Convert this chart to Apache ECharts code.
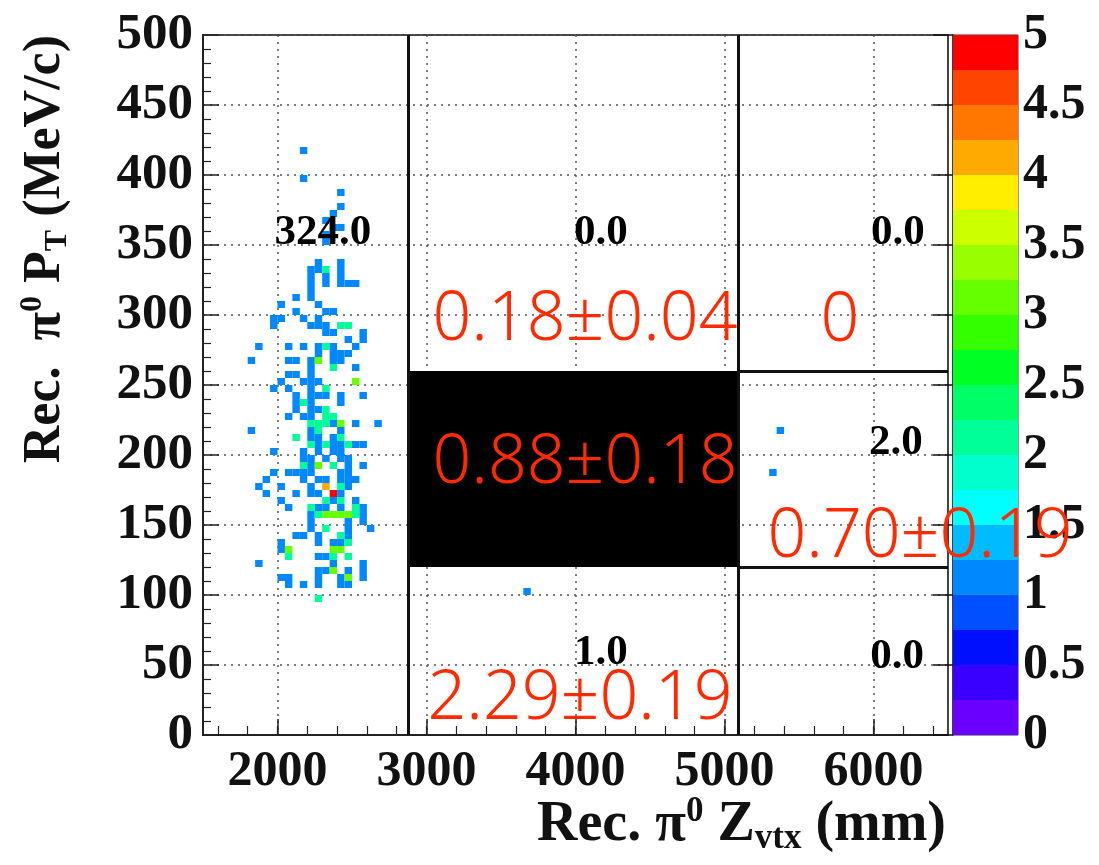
<!DOCTYPE html>
<html>
<head>
<meta charset="utf-8">
<title>Rec. pi0 PT vs Zvtx</title>
<script src="https://cdn.jsdelivr.net/npm/echarts@6/dist/echarts.min.js"></script>
<style>
  html, body { margin: 0; padding: 0; background: #fff; }
  #chart { width: 1099px; height: 865px; }
</style>
</head>
<body>
<div id="chart"></div>
<script>
// histogram bin size (mm, MeV/c)
const binW = 50;
const binH = 5;

// [Zvtx bin low edge, PT bin low edge, content]
const cells = [
  [2150, 415, 1], [2150, 395, 1], [2400, 385, 1], [2400, 375, 1], [2350, 370, 1],
  [2300, 365, 1], [2350, 360, 1], [2400, 360, 1], [2300, 355, 1], [2300, 350, 1],
  [2250, 335, 1], [2400, 335, 1],
  [2200, 330, 1], [2250, 330, 1], [2300, 330, 2], [2400, 330, 1],
  [2200, 325, 1], [2300, 325, 1], [2400, 325, 1],
  [2200, 320, 1], [2300, 320, 1], [2400, 320, 1], [2450, 320, 1], [2500, 320, 1],
  [2200, 315, 1], [2100, 310, 1], [2200, 310, 1], [2000, 305, 1], [2250, 305, 1],
  [2100, 300, 1], [2300, 300, 1], [2350, 300, 1],
  [1950, 295, 1], [2000, 295, 1], [2150, 295, 1], [2250, 295, 1],
  [1950, 290, 1], [2200, 290, 1], [2250, 290, 1], [2300, 290, 1], [2400, 290, 2], [2450, 290, 2],
  [2300, 285, 1], [2350, 285, 1], [2550, 285, 1], [2450, 280, 1], [2550, 280, 1],
  [1850, 275, 1], [2050, 275, 1], [2150, 275, 1], [2250, 275, 1], [2300, 275, 2], [2350, 275, 1], [2500, 275, 1],
  [2250, 270, 1], [2350, 270, 1], [2400, 270, 1], [2450, 270, 1],
  [1800, 265, 1], [2050, 265, 1], [2100, 265, 1], [2200, 265, 1], [2250, 265, 3], [2350, 265, 1], [2400, 265, 1],
  [2200, 260, 1], [2350, 260, 2], [2500, 260, 1],
  [2050, 255, 1], [2100, 255, 1], [2200, 255, 1],
  [2000, 250, 1], [2150, 250, 1], [2200, 250, 1], [2250, 250, 1], [2500, 250, 3],
  [1950, 245, 1], [2050, 245, 1], [2200, 245, 1], [2300, 245, 2],
  [2100, 240, 1], [2200, 240, 1], [2250, 240, 1], [2300, 240, 1], [2400, 240, 1], [2550, 240, 1],
  [2100, 235, 1], [2150, 235, 2], [2200, 235, 1], [2400, 235, 1],
  [2100, 230, 1], [2200, 230, 1], [2250, 230, 1], [2300, 230, 2],
  [2050, 225, 1], [2150, 225, 1], [2200, 225, 1], [2300, 225, 2], [2350, 225, 2],
  [2200, 220, 2], [2250, 220, 2], [2300, 220, 2], [2350, 220, 1], [2400, 220, 3], [2500, 220, 1], [2650, 220, 1],
  [1800, 215, 1], [2200, 215, 1], [2250, 215, 2], [2400, 215, 1],
  [2100, 210, 2], [2200, 210, 1], [2250, 210, 1], [2350, 210, 1], [2400, 210, 2],
  [2200, 205, 2], [2250, 205, 1], [2300, 205, 2], [2350, 205, 1], [2400, 205, 1], [2450, 205, 2], [2500, 205, 1], [2550, 205, 1],
  [1950, 200, 1], [2150, 200, 1], [2250, 200, 1], [2350, 200, 1], [2400, 200, 1],
  [2150, 195, 1], [2200, 195, 1], [2300, 195, 1], [2400, 195, 1], [2450, 195, 1],
  [2150, 190, 2], [2200, 190, 1], [2250, 190, 3], [2350, 190, 2], [2450, 190, 1], [2550, 190, 1],
  [1950, 185, 1], [2050, 185, 1], [2100, 185, 1], [2150, 185, 1], [2200, 185, 1], [2400, 185, 1], [2450, 185, 1],
  [1900, 180, 1], [2150, 180, 1], [2250, 180, 1], [2300, 180, 1], [2400, 180, 1], [2450, 180, 1], [2500, 180, 1],
  [1850, 175, 1], [2000, 175, 1], [2200, 175, 1], [2300, 175, 4], [2400, 175, 2], [2450, 175, 1],
  [1900, 170, 1], [2100, 170, 1], [2200, 170, 1], [2250, 170, 1], [2350, 170, 5], [2400, 170, 1],
  [2000, 165, 1], [2300, 165, 2], [2350, 165, 1], [2400, 165, 2], [2500, 165, 1],
  [2050, 160, 1], [2200, 160, 2], [2250, 160, 1], [2300, 160, 1], [2400, 160, 1], [2500, 160, 2], [2550, 160, 1],
  [2200, 155, 1], [2250, 155, 2], [2300, 155, 3], [2350, 155, 3], [2400, 155, 3], [2450, 155, 3], [2500, 155, 2], [2550, 155, 1],
  [2200, 150, 1], [2450, 150, 1], [2550, 150, 1],
  [2200, 145, 1], [2300, 145, 2], [2450, 145, 1], [2600, 145, 1],
  [2100, 140, 1], [2150, 140, 1], [2250, 140, 1], [2400, 140, 2], [2450, 140, 1],
  [2000, 135, 1], [2250, 135, 1], [2350, 135, 1], [2400, 135, 1], [2450, 135, 2],
  [2000, 130, 1], [2050, 130, 3], [2350, 130, 3], [2400, 130, 3],
  [2050, 125, 2], [2250, 125, 1], [2300, 125, 1], [2350, 125, 2], [2450, 125, 2],
  [1850, 120, 1], [2350, 120, 1], [2550, 120, 1],
  [2250, 115, 1], [2300, 115, 1], [2350, 115, 3], [2450, 115, 1], [2550, 115, 1],
  [2000, 110, 1], [2050, 110, 1], [2250, 110, 1], [2400, 110, 1], [2450, 110, 3], [2550, 110, 1],
  [2050, 105, 1], [2150, 105, 1], [2250, 105, 1], [2400, 105, 1], [2450, 105, 1],
  [2250, 95, 2],
  [3650, 100, 1], [5300, 185, 1], [5350, 215, 1]
];

// colour palette (lower edge of each band, 0..5)
const paletteStep = 0.25;
const paletteLevels = [0, 0.25, 0.5, 0.75, 1, 1.25, 1.5, 1.75, 2, 2.25,
  2.5, 2.75, 3, 3.25, 3.5, 3.75, 4, 4.25, 4.5, 4.75];
const paletteColors = ['#6a00ff', '#3a00ff', '#0010ff', '#0050ff', '#0088ff',
  '#00bbff', '#00ffff', '#00ffcc', '#00ff99', '#00ff66',
  '#00ff22', '#33ff00', '#66ff00', '#99ff00', '#ccff00',
  '#ffee00', '#ffaa00', '#ff7700', '#ff4400', '#ff0000'];

// axis ticks
const xMajorTicks = [2000, 3000, 4000, 5000, 6000];
const xMinorTicks = [1600, 1800, 2000, 2200, 2400, 2600, 2800, 3000, 3200, 3400, 3600,
  3800, 4000, 4200, 4400, 4600, 4800, 5000, 5200, 5400, 5600, 5800, 6000, 6200, 6400];

// signal box cuts
const cutZ = [2880, 5090];
const cutPt = [120, 260];

// entries per region (ROOT text)
const countText = ['324.0', '0.0', '0.0', '2.0', '1.0', '0.0'];
const countZ = [2305, 4171, 6164, 6151, 4171, 6158];
const countPt = [359, 359, 359, 209, 59, 56];

// expected background per region
const fitText = ['0.18±0.04', '0', '0.88±0.18', '0.70±0.19', '2.29±0.19'];
const fitZ = [4064, 5775, 4064, 6312, 4030];
const fitPt = [296, 295, 194, 141, 25];

const serif = 'Liberation Serif';

function colorFor(v) {
  let idx = Math.floor(v / paletteStep);
  if (idx > paletteColors.length - 1) idx = paletteColors.length - 1;
  return paletteColors[idx];
}

const chart = echarts.init(document.getElementById('chart'), null, { renderer: 'canvas' });

function titleRich(size) {
  const small = Math.round(size * 0.62);
  return {
    a: { fontFamily: serif, fontWeight: 'bold', fontSize: size, fill: '#111', color: '#111' },
    sup: { fontFamily: serif, fontWeight: 'bold', fontSize: small, fill: '#111', color: '#111', padding: [0, 0, Math.round(size / 2), 0] },
    sub: { fontFamily: serif, fontWeight: 'bold', fontSize: small, fill: '#111', color: '#111', padding: [Math.round(size / 2.2), 0, 0, 0] }
  };
}

const option = {
  backgroundColor: '#fff',
  animation: false,
  grid: [
    { left: 203, top: 35, width: 745, height: 700, show: true, borderColor: '#444', borderWidth: 2 },
    { left: 953, top: 35, width: 65, height: 700, show: true, borderColor: '#333', borderWidth: 1 }
  ],
  xAxis: [
    {
      gridIndex: 0, type: 'value', min: 1500, max: 6500, position: 'bottom',
      axisLine: { show: true, onZero: false, lineStyle: { color: '#222', width: 2 } },
      axisTick: { show: true, inside: true, length: 16, customValues: xMajorTicks, lineStyle: { color: '#222', width: 1.5 } },
      axisLabel: {
        customValues: xMajorTicks, margin: 12, formatter: (v) => String(v),
        fontFamily: serif, fontWeight: 'bold', fontSize: 50, color: '#111'
      },
      splitLine: { show: true, lineStyle: { color: '#555', type: [2, 5], width: 1.5 } }
    },
    {
      gridIndex: 0, type: 'value', min: 1500, max: 6500, position: 'bottom',
      axisLine: { show: false },
      axisTick: { show: true, inside: true, length: 9, customValues: xMinorTicks, lineStyle: { color: '#222', width: 1.2 } },
      axisLabel: { show: false },
      splitLine: { show: false }
    },
    { gridIndex: 1, type: 'value', min: 0, max: 1, show: false }
  ],
  yAxis: [
    {
      gridIndex: 0, type: 'value', min: 0, max: 500, interval: 50,
      axisLine: { show: true, onZero: false, lineStyle: { color: '#222', width: 2 } },
      axisTick: { show: true, inside: true, length: 16, lineStyle: { color: '#222', width: 1.5 } },
      minorTick: { show: true, splitNumber: 5, length: 8, lineStyle: { color: '#222', width: 1.2 } },
      axisLabel: { margin: 10, fontFamily: serif, fontWeight: 'bold', fontSize: 51, color: '#111' },
      splitLine: { show: true, lineStyle: { color: '#555', type: [2, 5], width: 1.5 } }
    },
    {
      gridIndex: 1, type: 'value', min: 0, max: 5, interval: 0.5, position: 'right',
      axisLine: { show: true, lineStyle: { color: '#222', width: 1.5 } },
      axisTick: { show: true, inside: true, length: 20, lineStyle: { color: '#111', width: 1.5 } },
      axisLabel: { margin: 5, fontFamily: serif, fontWeight: 'bold', fontSize: 50, color: '#111' },
      splitLine: { show: false }
    }
  ],
  series: [
    {
      name: 'cuts',
      type: 'line',
      xAxisIndex: 0, yAxisIndex: 0,
      data: [],
      z: 2,
      markArea: {
        silent: true,
        itemStyle: { color: '#000', opacity: 1 },
        data: [[{ coord: [cutZ[0], cutPt[0]] }, { coord: [cutZ[1], cutPt[1]] }]]
      },
      markLine: {
        silent: true,
        symbol: 'none',
        label: { show: false },
        lineStyle: { color: '#111', width: 3, type: 'solid' },
        data: [
          { xAxis: cutZ[0] },
          { xAxis: cutZ[1] },
          [{ coord: [cutZ[1], cutPt[0]] }, { coord: [6500, cutPt[0]] }],
          [{ coord: [cutZ[1], cutPt[1]] }, { coord: [6500, cutPt[1]] }]
        ]
      }
    },
    {
      name: 'hist',
      type: 'custom',
      xAxisIndex: 0, yAxisIndex: 0,
      z: 3,
      clip: true,
      data: cells,
      renderItem: function (params, api) {
        const x0 = api.value(0);
        const y0 = api.value(1);
        const p0 = api.coord([x0, y0]);
        const p1 = api.coord([x0 + binW, y0 + binH]);
        return {
          type: 'rect',
          shape: { x: p0[0], y: p1[1], width: p1[0] - p0[0], height: p0[1] - p1[1] },
          style: { fill: colorFor(api.value(2)) }
        };
      }
    },
    {
      name: 'palette',
      type: 'custom',
      xAxisIndex: 2, yAxisIndex: 1,
      data: paletteLevels.map((l, i) => [0, l, i]),
      renderItem: function (params, api) {
        const lo = api.value(1);
        const p0 = api.coord([0, lo]);
        const p1 = api.coord([1, lo + paletteStep]);
        return {
          type: 'rect',
          shape: { x: p0[0], y: p1[1], width: p1[0] - p0[0], height: p0[1] - p1[1] },
          style: { fill: paletteColors[api.value(2)] }
        };
      }
    },
    {
      name: 'counts',
      type: 'scatter',
      xAxisIndex: 0, yAxisIndex: 0,
      symbolSize: 1,
      itemStyle: { color: 'transparent', opacity: 1 },
      z: 6,
      data: countText.map((t, i) => ({ name: t, value: [countZ[i], countPt[i]] })),
      label: {
        show: true, position: 'inside', formatter: '{b}',
        fontFamily: serif, fontWeight: 'bold', fontSize: 43, color: '#000'
      }
    },
    {
      name: 'fits',
      type: 'scatter',
      xAxisIndex: 0, yAxisIndex: 0,
      symbolSize: 1,
      itemStyle: { color: 'transparent', opacity: 1 },
      z: 10,
      data: fitText.map((t, i) => ({ name: t, value: [fitZ[i], fitPt[i]] })),
      label: {
        show: true, position: 'inside', formatter: '{b}',
        fontFamily: 'Noto Sans', fontWeight: 300, fontSize: 68, color: '#ff2a00'
      }
    }
  ],
  graphic: [
    {
      type: 'text', x: 946, y: 826, z: 20,
      style: {
        text: '{a|Rec. π}{sup|0}{a| Z}{sub|vtx}{a| (mm)}',
        rich: titleRich(56),
        align: 'right', textAlign: 'right',
        verticalAlign: 'middle', textVerticalAlign: 'middle'
      }
    },
    {
      type: 'text', x: 46, y: 35, z: 20, rotation: Math.PI / 2,
      style: {
        text: '{a|Rec.  π}{sup|0}{a| P}{sub|T}{a| (MeV/c)}',
        rich: titleRich(52),
        align: 'right', textAlign: 'right',
        verticalAlign: 'middle', textVerticalAlign: 'middle'
      }
    }
  ]
};

chart.setOption(option);
window.addEventListener('resize', () => chart.resize());
</script>
</body>
</html>
